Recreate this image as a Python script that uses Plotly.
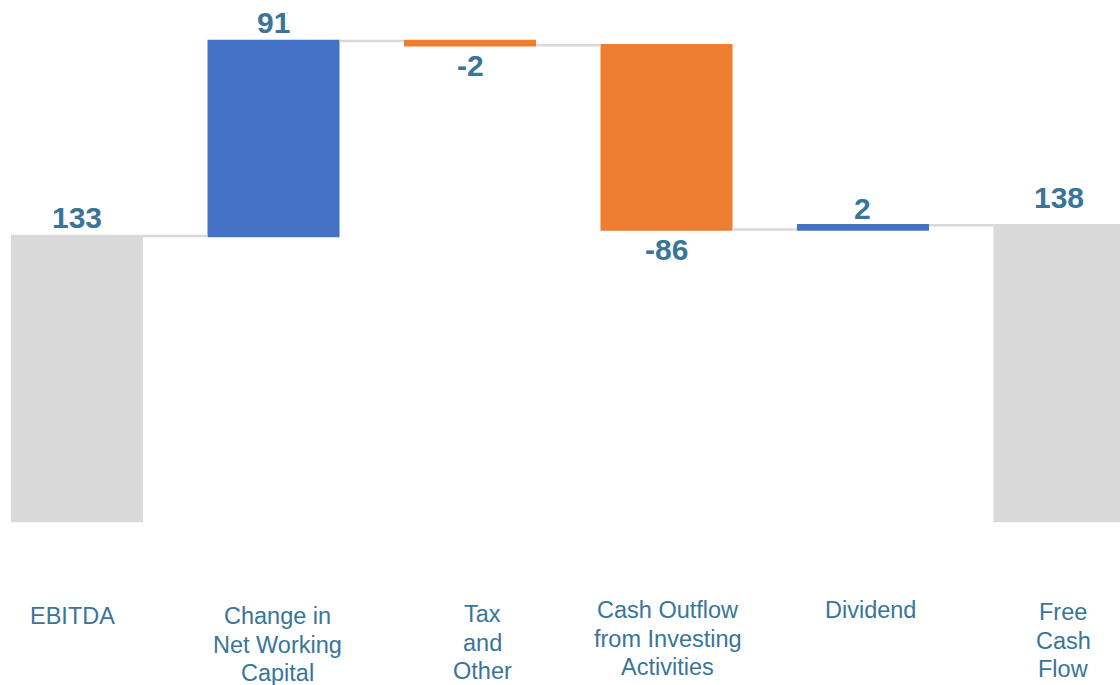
import plotly.graph_objects as go

# Cash flow bridge: EBITDA to Free Cash Flow
categories = ["EBITDA", "Change in\nNet Working\nCapital", "Tax\nand\nOther",
              "Cash Outflow\nfrom Investing\nActivities", "Dividend", "Free\nCash\nFlow"]
values = [133, 91, -2, -86, 2, 138]
measures = ["absolute", "relative", "relative", "relative", "relative", "total"]

BLUE = "#4472C4"
ORANGE = "#ED7D31"
GREY = "#D9D9D9"
LABEL = "#3A7598"
FONT = "Liberation Sans, Arial, sans-serif"

x_pos = list(range(len(categories)))

# small horizontal / vertical nudges (px) for the category captions
label_dx = [-5, 4, 12, 1, 8, 4]
label_dy = [0, 0, 2, 6, 6, 4]
LINE_GAP = 28.5
# distance (px) of each value label's centre from the end of its bar
value_gap = [18, 18, 20, 20, 17, 28]

fig = go.Figure(go.Waterfall(
    x=x_pos,
    y=values,
    measure=measures,
    width=0.672,
    increasing=dict(marker=dict(color=BLUE)),
    decreasing=dict(marker=dict(color=ORANGE)),
    totals=dict(marker=dict(color=GREY)),
    connector=dict(mode="between", line=dict(color=GREY, width=2.5)),
))

# Value labels at the end of each bar: above rises, below falls
running = 0
for xi, v, m, gap in zip(x_pos, values, measures, value_gap):
    if m == "absolute":
        running = v
    elif m == "relative":
        running += v
    end = running
    fig.add_annotation(
        x=xi, y=end, yanchor="middle",
        yshift=gap if v >= 0 else -gap,
        text=str(v), showarrow=False,
        font=dict(family=FONT, size=30, color=LABEL, weight="bold"),
    )

# Category captions beneath the bars, one annotation per line
for xi, cat, dx, dy in zip(x_pos, categories, label_dx, label_dy):
    for k, line in enumerate(cat.split("\n")):
        fig.add_annotation(
            x=xi, xref="x", y=0.0, yref="paper", yanchor="middle",
            xshift=dx, yshift=685 - 616 + dy - k * LINE_GAP,
            text=line, showarrow=False, align="center",
            font=dict(family=FONT, size=23.5, color=LABEL),
        )

fig.update_layout(
    width=1120, height=685,
    margin=dict(l=0, r=0, t=0, b=0),
    paper_bgcolor="white", plot_bgcolor="white",
    showlegend=False,
    xaxis=dict(range=[-0.392, 5.308], visible=False, fixedrange=True),
    yaxis=dict(range=[-76.5, 243.1], visible=False, fixedrange=True),
)

fig.write_html("out.html", config={"displayModeBar": False})
